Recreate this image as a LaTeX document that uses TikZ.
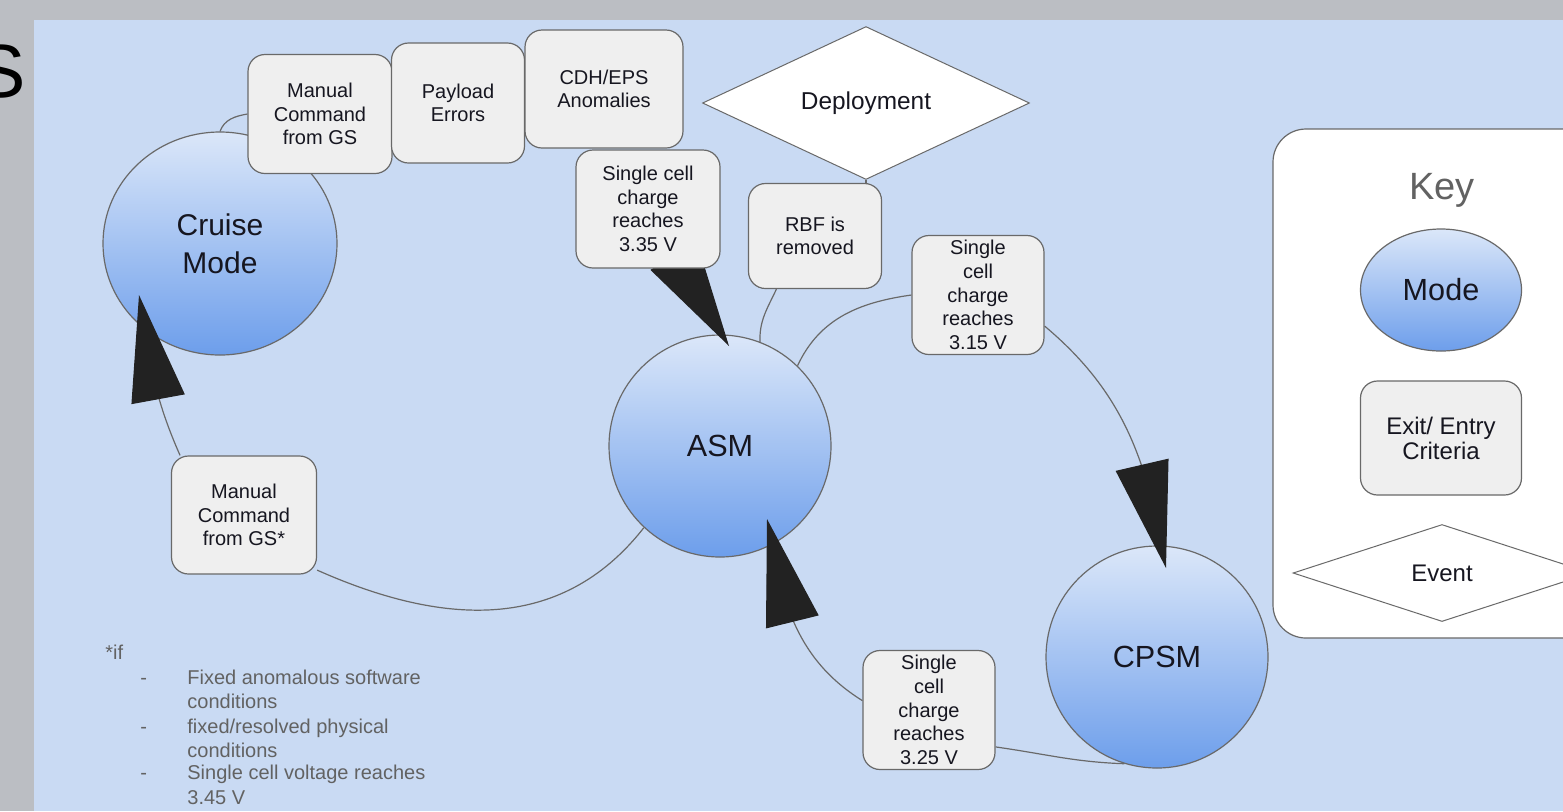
\documentclass[tikz,border=0pt]{standalone}
\usepackage{fontspec}
\setmainfont{Liberation Sans}
\usetikzlibrary{shapes.geometric,arrows.meta,bending,calc}

\definecolor{slidegray}{RGB}{187,190,195}
\definecolor{panelblue}{RGB}{201,218,243}
\definecolor{modetop}{RGB}{219,231,249}
\definecolor{modebot}{RGB}{109,158,235}
\definecolor{critfill}{RGB}{239,239,239}
\definecolor{edgegray}{RGB}{105,105,105}
\definecolor{tipblack}{RGB}{34,34,34}
\definecolor{inkdark}{RGB}{22,22,32}
\definecolor{notegray}{RGB}{98,98,98}

\pgfdeclarelayer{front}
\pgfsetlayers{main,front}

\tikzset{
  mode/.style={ellipse, draw=edgegray, line width=0.6pt, top color=modetop, bottom color=modebot,
    inner sep=0pt, text=inkdark, align=center, font=\fontsize{15.3}{19}\selectfont},
  crit/.style={rectangle, rounded corners=8.5pt, draw=edgegray, line width=0.6pt, fill=critfill,
    inner sep=0pt, text=inkdark, align=center, font=\fontsize{10}{11.8}\selectfont},
  event/.style={diamond, draw=edgegray, line width=0.5pt, fill=white, inner sep=0pt,
    text=inkdark, font=\fontsize{12.2}{14}\selectfont},
  link/.style={draw=edgegray, line width=0.6pt},
  bigtip/.style={-{Triangle[length=53pt,width=27pt,color=tipblack]}},
  note/.style={inner sep=0pt, text=notegray, font=\fontsize{10}{12}\selectfont}
}

\begin{document}
\begin{tikzpicture}[x=0.5pt,y=0.5pt]
  \useasboundingbox (0,0) rectangle (1563,-811);
  % slide and panel
  \fill[slidegray] (0,0) rectangle (1563,-811);
  \fill[panelblue] (34,-20) rectangle (1563,-811);
  \node[anchor=base east, inner sep=0pt, font=\fontsize{37.7}{40}\selectfont] (title) at (26,-97) {S};

  % key
  \draw[edgegray, line width=0.6pt, fill=white, rounded corners=16.5pt] (1273,-129) rectangle (1640,-638);
  \node[inner sep=0pt, text=notegray, font=\fontsize{19}{22}\selectfont] (keytitle) at (1442,-190) {Key};
  \node[mode, minimum width=80.5pt, minimum height=61pt] (keymode) at (1441,-290) {Mode};
  \node[crit, minimum width=80.5pt, minimum height=57pt, font=\fontsize{12}{12.5}\selectfont] (keycrit) at (1441,-438) {Exit/ Entry\\Criteria};
  \node[event, minimum width=149pt, minimum height=48.5pt, font=\fontsize{12}{12.5}\selectfont] (keyevent) at (1442,-573) {Event};

  % modes
  \node[mode, minimum width=117pt, minimum height=111.5pt, font=\fontsize{15}{19}\selectfont] (cruise) at (220,-243.5) {Cruise\\Mode};
  \node[mode, minimum width=111pt, minimum height=111pt] (asm) at (720,-446) {ASM};
  \node[mode, minimum width=111pt, minimum height=111pt] (cpsm) at (1157,-657) {CPSM};

  % exit / entry criteria
  \begin{pgfonlayer}{front}
    \node[crit, minimum width=72pt, minimum height=59.5pt] (mcgs) at (320,-114) {Manual\\Command\\from GS};
    \node[crit, minimum width=66.5pt, minimum height=60pt] (pe) at (458,-103) {Payload\\Errors};
    \node[crit, minimum width=79pt, minimum height=59pt] (cdh) at (604,-89) {CDH/EPS\\Anomalies};
    \node[crit, minimum width=72pt, minimum height=59pt] (c335) at (648,-209) {Single cell\\charge\\reaches\\3.35 V};
    \node[crit, minimum width=66.5pt, minimum height=52.5pt] (rbf) at (815,-236) {RBF is\\removed};
    \node[crit, minimum width=66pt, minimum height=59.5pt] (c315) at (978,-295) {Single\\cell\\charge\\reaches\\3.15 V};
    \node[crit, minimum width=66pt, minimum height=59.5pt] (c325) at (929,-710) {Single\\cell\\charge\\reaches\\3.25 V};
    \node[crit, minimum width=72.5pt, minimum height=59pt] (crgs) at (244,-515) {Manual\\Command\\from GS*};
    \node[event, minimum width=163.5pt, minimum height=56.5pt] (dep) at (866,-103) {Deployment};
  \end{pgfonlayer}

  % arrow tips end inside the modes
  \coordinate (cruisetip) at ($(cruise.center)+(-81,-51.5)$);
  \coordinate (asmtopt) at ($(asm.center)+(9,100)$);
  \coordinate (asmlowt) at ($(asm.center)+(47,-73)$);
  \coordinate (cpsmtip) at ($(cpsm.center)+(9,89)$);

  \draw[link] (cruise.north) to[out=70, in=190] (mcgs.west);
  \draw[link, bigtip] (c335.center) to[out=-70, in=110] (asmtopt);
  \draw[link] (dep.south) -- (dep.south |- rbf.north);
  \draw[link] (rbf.234) to[out=245, in=92] (asm.69);
  \draw[link] (asm.46) to[out=65, in=188] (c315.west);
  \draw[link, bigtip] (c315.-25) to[out=-40, in=100] (cpsmtip);
  \draw[link] (cpsm.253) to[out=178, in=-8] (c325.-29);
  \draw[link, bigtip] (c325.172) to[out=148, in=-80] (asmlowt);
  \draw[link] (asm.227) to[out=232, in=-24, looseness=1.05] (crgs.-37);
  \draw[link, bigtip] (crgs.137) to[out=114, in=-81] (cruisetip);

  % footnote
  \node[note, anchor=base west] (ifnote) at (105,-659.5) {*if};
  \foreach \y in {684.5,733.5,779.5}
    \node[note, anchor=base west] at (140,-\y) {-};
  \foreach \t/\y in {Fixed anomalous software/684.5, conditions/708.5, {fixed/resolved physical}/733.5,
                     conditions/757.5, Single cell voltage reaches/779.5, 3.45 V/804.5}
    \node[note, anchor=base west] at (187,-\y) {\t};
\end{tikzpicture}
\end{document}
